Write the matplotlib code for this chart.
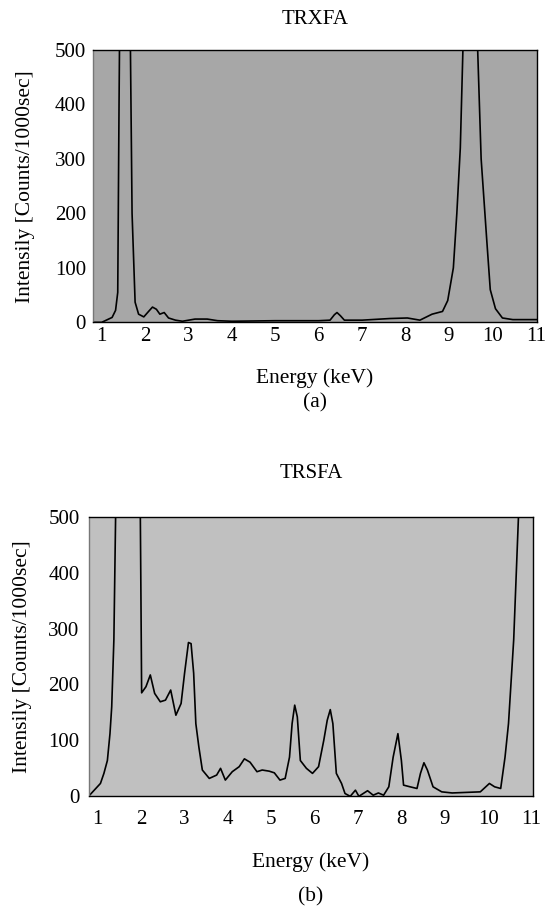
import matplotlib
matplotlib.use("Agg")
import matplotlib.pyplot as plt

# TRXFA spectrum (energy keV, counts/1000sec)
trxfa_e = [0.84, 1.0, 1.24, 1.32, 1.37, 1.40, 1.45, 1.52, 1.60, 1.65, 1.70, 1.77, 1.85,
           1.97, 2.08, 2.17, 2.26, 2.34, 2.44, 2.54, 2.70, 2.86, 3.15, 3.43, 3.67, 4.0, 5.0, 6.0,
           6.26, 6.36, 6.42, 6.50, 6.59, 7.0, 7.64, 8.04, 8.33, 8.61, 8.85, 8.97, 9.10, 9.18, 9.26,
           9.32, 9.50, 9.66, 9.74, 9.87, 9.95, 10.07, 10.23, 10.47, 11.05]
trxfa_i = [0, 0, 9, 22, 55, 400, 900, 1200, 900, 600, 200, 37, 15,
           10, 20, 28, 24, 15, 18, 8, 4, 2, 6, 6, 3, 2, 3, 3,
           4, 14, 18, 12, 4, 4, 7, 8, 4, 15, 20, 40, 100, 200, 320,
           500, 1100, 500, 300, 150, 60, 25, 8, 5, 5]

# TRSFA spectrum
trsfa_e = [0.78, 0.81, 1.06, 1.14, 1.22, 1.28, 1.32, 1.37, 1.41, 1.6, 1.96, 1.99, 2.01,
           2.11, 2.21, 2.31, 2.44, 2.56, 2.68, 2.80, 2.92, 3.00, 3.09, 3.15, 3.21, 3.26,
           3.33, 3.41, 3.57, 3.74, 3.83, 3.94, 4.10, 4.26, 4.38, 4.51, 4.67, 4.79, 4.95,
           5.07, 5.20, 5.32, 5.42, 5.48, 5.54, 5.60, 5.67, 5.81, 5.95, 6.09, 6.21, 6.29,
           6.36, 6.42, 6.50, 6.62, 6.70, 6.82, 6.94, 7.02, 7.22, 7.35, 7.47, 7.59, 7.71,
           7.81, 7.92, 8.00, 8.05, 8.20, 8.36, 8.44, 8.52, 8.60, 8.73, 8.93, 9.17, 9.82,
           10.03, 10.15, 10.29, 10.39, 10.47, 10.59, 10.70, 11.05]
trsfa_i = [0, 2, 23, 41, 64, 112, 160, 280, 500, 1500, 700, 400, 185,
           196, 217, 184, 169, 172, 190, 145, 166, 220, 275, 273, 220, 130,
           88, 47, 32, 38, 50, 29, 44, 53, 67, 61, 44, 47, 45,
           42, 29, 32, 70, 130, 163, 142, 64, 50, 41, 53, 100, 136,
           155, 130, 41, 23, 5, 0, 11, 0, 10, 2, 6, 2, 17,
           70, 112, 64, 20, 17, 14, 41, 60, 47, 17, 8, 6, 8,
           23, 17, 14, 70, 130, 280, 500, 900]

plt.rcParams['font.family'] = ['Liberation Serif', 'DejaVu Serif']
plt.rcParams['font.size'] = 15

fig = plt.figure(figsize=(5.47, 9.08), dpi=100)

panels = [
    dict(rect=[0.170, 0.645, 0.812, 0.300], e=trxfa_e, i=trxfa_i, face='#a7a7a7',
         title='TRXFA', title_y=0.978, xl_y=0.584, tag='(a)', tag_y=0.556,
         yl_x=0.046, xpad=3, ypad=5),
    dict(rect=[0.163, 0.123, 0.811, 0.308], e=trsfa_e, i=trsfa_i, face='#c0c0c0',
         title='TRSFA', title_y=0.479, xl_y=0.050, tag='(b)', tag_y=0.012,
         yl_x=0.042, xpad=10, ypad=7),
]

for p in panels:
    ax = fig.add_axes(p['rect'])
    ax.set_facecolor(p['face'])
    ax.plot(p['e'], p['i'], color='black', lw=1.2)
    ax.set_xlim(0.8, 11.03)
    ax.set_ylim(0, 500)
    ax.set_xticks(range(1, 12))
    ax.set_yticks([0, 100, 200, 300, 400, 500])
    ax.tick_params(axis='x', length=0, pad=p['xpad'], labelsize=15)
    ax.tick_params(axis='y', length=0, pad=p['ypad'], labelsize=15)
    for s in ax.spines.values():
        s.set_linewidth(1.0)
    ax.spines['left'].set_color('#777777')
    cx = p['rect'][0] + p['rect'][2] / 2
    fig.text(cx, p['title_y'], p['title'], ha='center', va='center', fontsize=15)
    fig.text(cx, p['xl_y'], 'Energy (keV)', ha='center', va='center', fontsize=15.5)
    fig.text(cx, p['tag_y'], p['tag'], ha='center', va='center', fontsize=15.5)
    fig.text(p['yl_x'], p['rect'][1] + p['rect'][3] / 2, 'Intensily [Counts/1000sec]',
             rotation=90, ha='center', va='center', fontsize=15.5)

fig.savefig('out.png', dpi=100)
